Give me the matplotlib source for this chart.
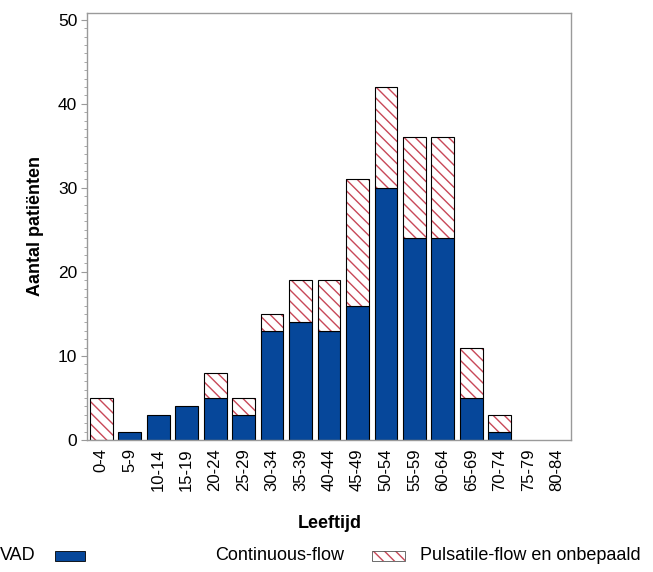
import matplotlib
matplotlib.use('Agg')
import matplotlib.pyplot as plt
from matplotlib.patches import Rectangle

plt.rcParams['font.family'] = ['Liberation Sans', 'DejaVu Sans']
plt.rcParams['hatch.linewidth'] = 1.0

age_groups = ['0-4', '5-9', '10-14', '15-19', '20-24', '25-29', '30-34', '35-39',
              '40-44', '45-49', '50-54', '55-59', '60-64', '65-69', '70-74',
              '75-79', '80-84']
continuous = [0, 1, 3, 4, 5, 3, 13, 14, 13, 16, 30, 24, 24, 5, 1, 0, 0]
pulsatile = [5, 0, 0, 0, 3, 2, 2, 5, 6, 15, 12, 12, 12, 6, 2, 0, 0]
y_ticks = [0, 10, 20, 30, 40, 50]

BLUE = '#06479A'
HATCH_RED = '#C84858'
SPINE_GREY = '#9A9A9A'

fig = plt.figure(figsize=(6.53, 5.72), dpi=100)
ax = fig.add_axes([87 / 653, 1 - 440 / 572, 484 / 653, 427 / 572])

x = list(range(len(age_groups)))
# no outline for empty bars
lw_cont = [0.8 if v > 0 else 0 for v in continuous]
lw_puls = [0.8 if v > 0 else 0 for v in pulsatile]

ax.bar(x, continuous, width=0.8, color=BLUE, edgecolor='black', linewidth=lw_cont)
# hatched part: draw hatch in red first, then black outline on top
ax.bar(x, pulsatile, width=0.8, bottom=continuous, color='white',
       edgecolor=HATCH_RED, hatch='\\\\\\', linewidth=0)
ax.bar(x, pulsatile, width=0.8, bottom=continuous, fill=False,
       edgecolor='black', linewidth=lw_puls)

ax.set_xlim(-0.5, len(age_groups) - 0.5)
ax.set_ylim(0, 50.8)
ax.set_yticks(y_ticks)
ax.set_yticks(range(0, 51), minor=True)
ax.set_xticks(x)
ax.set_xticklabels(age_groups, rotation=90, fontsize=12)
ax.tick_params(axis='x', length=0, pad=6)
ax.tick_params(axis='y', which='major', length=4, color=SPINE_GREY, labelsize=12.5, pad=3)
ax.tick_params(axis='y', which='minor', length=2.5, color=SPINE_GREY)
for s in ax.spines.values():
    s.set_color(SPINE_GREY)
    s.set_linewidth(1.0)

ax.set_ylabel('Aantal patiënten', fontsize=13, fontweight='bold', labelpad=10)
fig.text(330 / 653, 1 - 523 / 572, 'Leeftijd', fontsize=13, fontweight='bold',
         ha='center', va='center')

# legend row at the bottom
ly = 1 - 556 / 572
fig.text(0 / 653, ly, 'VAD', fontsize=13, ha='left', va='center')
fig.patches.append(Rectangle((55 / 653, 1 - 561 / 572), 30 / 653, 10 / 572,
                             transform=fig.transFigure, facecolor=BLUE,
                             edgecolor='black', linewidth=0.6))
fig.text(215 / 653, ly, 'Continuous-flow', fontsize=13, ha='left', va='center')
fig.patches.append(Rectangle((372 / 653, 1 - 561 / 572), 33 / 653, 10 / 572,
                             transform=fig.transFigure, facecolor='white',
                             edgecolor=HATCH_RED, hatch='\\\\\\', linewidth=0))
fig.patches.append(Rectangle((372 / 653, 1 - 561 / 572), 33 / 653, 10 / 572,
                             transform=fig.transFigure, fill=False,
                             edgecolor='#555555', linewidth=0.6))
fig.text(420 / 653, ly, 'Pulsatile-flow en onbepaald', fontsize=13, ha='left', va='center')

fig.savefig('out.png', dpi=100)
